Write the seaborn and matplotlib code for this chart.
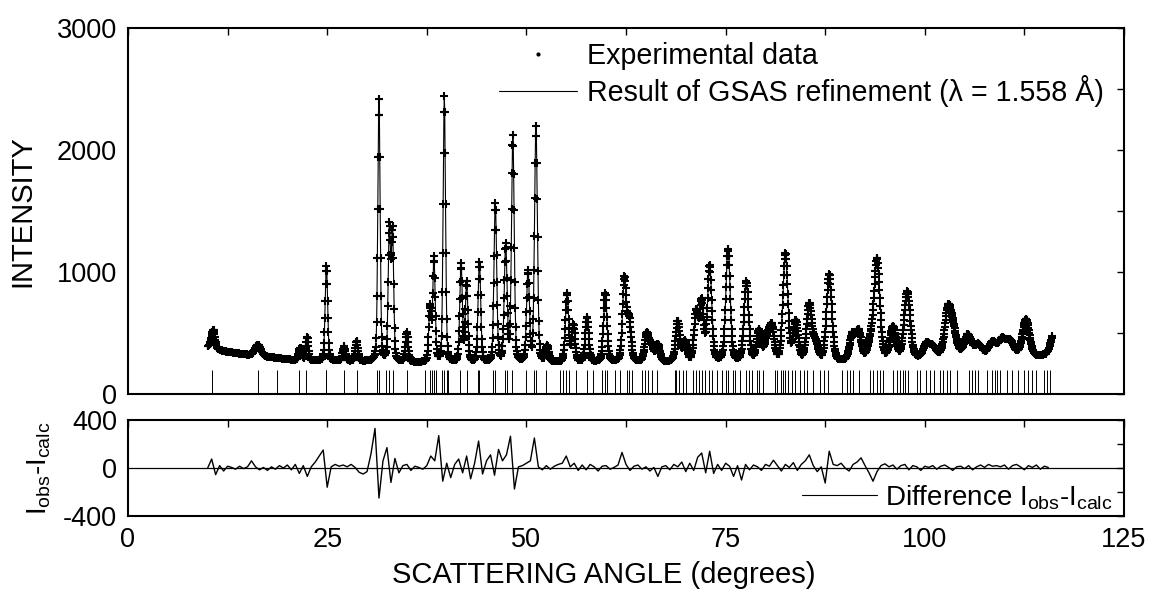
import numpy as np
import matplotlib
matplotlib.use("Agg")
import matplotlib.pyplot as plt
import seaborn as sns
from matplotlib.ticker import MultipleLocator
from matplotlib.lines import Line2D

sns.set_theme(style="white")
plt.rcParams.update({
    'font.family': ['Liberation Sans', 'DejaVu Sans'],
    'mathtext.default': 'regular',
    'axes.unicode_minus': False,
    'axes.edgecolor': 'black',
    'axes.labelcolor': 'black',
    'axes.linewidth': 1.5,
    'xtick.color': 'black',
    'ytick.color': 'black',
    'text.color': 'black',
})

# Peaks (angle, height above background, FWHM in degrees)
PEAK_POS = [10.7, 16.3, 21.6, 22.5, 24.9, 27.1, 28.7, 31.5, 32.8, 33.2,
            35.0, 37.9, 38.4, 39.7, 41.8, 42.5, 44.1, 46.1, 47.4, 48.3,
            50.2, 51.2, 52.6, 55.1, 55.9, 57.6, 59.9, 62.3, 62.9, 65.1,
            65.7, 66.5, 69.0, 69.9, 71.3, 72.0, 73.0, 75.3, 77.6, 79.2,
            80.2, 80.8, 82.5, 83.8, 85.5, 86.3, 88.0, 90.9, 91.7, 93.2,
            94.0, 96.0, 97.8, 100.2, 101.0, 102.9, 103.6, 105.4, 106.7, 108.5,
            109.7, 110.7, 112.7, 116.4]
PEAK_HEIGHT = [150, 90, 100, 190, 780, 120, 160, 2150, 1080, 1050,
               240, 450, 850, 2180, 800, 650, 820, 1300, 950, 1850,
               740, 1930, 130, 560, 300, 370, 560, 680, 330, 230,
               130, 140, 330, 160, 400, 480, 780, 920, 650, 250,
               180, 270, 880, 320, 460, 140, 710, 210, 230, 140,
               820, 260, 550, 110, 80, 380, 180, 160, 80, 100,
               120, 110, 300, 260]
PEAK_FWHM = [0.5, 0.9, 0.5, 0.35, 0.37, 0.4, 0.4, 0.34, 0.34, 0.34,
             0.4, 0.36, 0.36, 0.35, 0.38, 0.38, 0.4, 0.4, 0.42, 0.4,
             0.42, 0.42, 0.48, 0.48, 0.48, 0.5, 0.52, 0.55, 0.55, 0.6,
             0.6, 0.6, 0.6, 0.6, 0.6, 0.6, 0.62, 0.65, 0.68, 0.68,
             0.7, 0.7, 0.72, 0.74, 0.76, 0.76, 0.78, 0.8, 0.8, 0.82,
             0.84, 0.86, 0.88, 0.9, 0.9, 0.95, 0.95, 1.0, 1.0, 1.05,
             1.05, 1.05, 1.0, 1.05]

BKG_ANGLE = [10, 12, 15, 18, 21, 25, 30, 40, 50, 60, 70, 80, 90, 100, 106, 110, 114, 116]
BKG_LEVEL = [390, 350, 320, 300, 275, 270, 265, 250, 250, 260, 260, 260, 260, 290, 320, 320, 305, 320]

# Reflection marker positions (degrees)
REFLECTIONS = [10.6, 16.35, 18.7, 21.5, 22.4, 24.8, 24.9, 27.1, 28.7, 31.3,
               31.5, 32.4, 32.7, 33.2, 35.0, 37.3, 37.9, 38.1, 38.4, 38.7,
               39.4, 39.7, 40.0, 40.2, 41.7, 42.5, 43.9, 44.1, 45.8, 46.1,
               47.3, 47.6, 48.2, 50.0, 50.9, 51.2, 52.5, 54.2, 54.6, 55.0,
               55.4, 56.2, 57.6, 58.4, 59.5, 59.9, 60.1, 61.1, 61.7, 62.6,
               62.9, 63.2, 64.5, 64.9, 65.3, 65.7, 66.4, 68.6, 68.8, 69.1,
               69.7, 70.0, 70.9, 71.3, 71.7, 72.0, 72.4, 72.9, 73.3, 73.9,
               74.5, 75.1, 75.3, 75.9, 76.2, 76.8, 77.5, 77.9, 78.3, 78.9,
               79.2, 79.7, 81.2, 81.5, 81.9, 82.2, 82.5, 82.8, 83.3, 83.7,
               84.3, 84.8, 85.2, 86.0, 86.8, 87.3, 87.9, 89.6, 90.2, 90.6,
               91.0, 91.7, 93.1, 93.5, 94.0, 94.4, 94.8, 96.0, 96.5, 96.9,
               97.3, 97.5, 97.9, 99.0, 99.4, 100.2, 100.7, 101.1, 101.9, 102.3,
               102.8, 103.2, 104.0, 105.5, 105.9, 106.3, 106.7, 107.8, 108.4, 108.8,
               109.0, 109.4, 110.3, 110.9, 111.7, 112.4, 113.0, 113.4, 114.0, 114.9,
               115.3, 115.7]
TICK_HEIGHT = 200

# Difference curve, sampled every 0.5 degrees from 10.0
DIFF_START = 10.0
DIFF_STEP = 0.5
DIFF_VALUES = [0, 75, -55, 20, -25, 15, 5, -10, 15, -5,
               10, 60, 10, -15, 5, -20, 10, -10, 20, 0,
               25, -15, 30, -45, 20, -70, 10, 50, 100, 150,
               -160, 10, 30, 15, 25, 10, 30, 5, -35, -50,
               -30, 120, 330, -250, 60, 170, -120, 80, -40, 20,
               30, -20, 15, 5, -10, 20, 100, 60, 270, -110,
               40, -80, 30, 75, -40, 100, -90, 40, 225, -50,
               60, 110, -60, 155, 60, 110, 265, -175, 10, 20,
               40, 60, 250, 10, -15, 20, -10, 15, 30, 40,
               100, 10, 40, -20, 25, -15, 30, 10, -25, 15,
               20, -10, 5, 25, 130, 30, -20, 15, 25, -10,
               10, -25, 5, -70, 10, 20, -15, 30, 10, 50,
               -30, 40, -20, 90, 125, -40, 140, -45, 30, -20,
               40, 15, -70, 20, -100, 30, -15, 25, 10, -20,
               30, 15, 65, 20, -25, 30, 5, 45, -20, 30,
               60, 110, 20, -30, 10, -125, 140, 30, 20, 40,
               0, -25, 30, 50, 85, 20, -40, -110, -30, 20,
               35, 10, 25, -10, 20, 30, -15, 20, 10, -20,
               15, 5, 20, -10, 15, 25, 5, -20, 10, 15,
               -5, 20, -15, 10, 25, 5, 30, 15, 20, 10,
               25, -10, 20, 30, 10, -15, 20, 5, 25, -10,
               15, 5]

SCAN_START, SCAN_END, SCAN_STEP = 10.0, 116.0, 0.05


def calc_profile(tth):
    y = np.interp(tth, BKG_ANGLE, BKG_LEVEL).astype(float)
    for p, h, w in zip(PEAK_POS, PEAK_HEIGHT, PEAK_FWHM):
        u = (tth - p) / w
        gauss = np.exp(-4 * np.log(2) * u ** 2)
        lorentz = 1.0 / (1.0 + 4 * u ** 2)
        y += h * (0.75 * gauss + 0.25 * lorentz)
    return y


tth = np.arange(SCAN_START, SCAN_END, SCAN_STEP)
icalc = calc_profile(tth)
diff_x = DIFF_START + DIFF_STEP * np.arange(len(DIFF_VALUES))

fig = plt.figure(figsize=(11.5, 5.9), dpi=100)
ax1 = fig.add_axes([0.1113, 0.3322, 0.8661, 0.6203])
ax2 = fig.add_axes([0.1113, 0.1254, 0.8661, 0.1627])

# Top panel: observed points, calculated curve and reflection markers
sns.lineplot(x=tth, y=icalc, ax=ax1, color='black', linewidth=0.8,
             estimator=None, zorder=2)
sns.scatterplot(x=tth, y=icalc, ax=ax1, marker='+', s=38, color='black',
                linewidth=1.5, legend=False, zorder=3)
ax1.vlines(REFLECTIONS, 0, TICK_HEIGHT, color='black', linewidth=0.7)

ax1.set_xlim(0, 125)
ax1.set_ylim(0, 3000)
ax1.set_ylabel('INTENSITY', fontsize=21)
ax1.yaxis.set_label_coords(-0.092, 0.5)
ax1.yaxis.set_major_locator(MultipleLocator(1000))
ax1.yaxis.set_minor_locator(MultipleLocator(500))
ax1.xaxis.set_major_locator(MultipleLocator(25))
ax1.xaxis.set_minor_locator(MultipleLocator(12.5))
ax1.tick_params(axis='x', labelbottom=False)

handles = [Line2D([], [], ls='none', marker='.', markersize=4, color='black'),
           Line2D([], [], color='black', linewidth=0.8)]
ax1.legend(handles, ['Experimental data',
                     'Result of GSAS refinement (\u03bb = 1.558 \u00c5)'],
           loc='upper right', bbox_to_anchor=(0.991, 0.992), frameon=False,
           fontsize=20.6, handlelength=2.7, handletextpad=0.35, labelspacing=0.15,
           borderaxespad=0.0)

# Bottom panel: difference curve
sns.lineplot(x=diff_x, y=DIFF_VALUES, ax=ax2, color='black', linewidth=1.0,
             estimator=None)
ax2.axhline(0, color='black', linewidth=0.9)
ax2.set_xlim(0, 125)
ax2.set_ylim(-400, 400)
ax2.yaxis.set_major_locator(MultipleLocator(400))
ax2.yaxis.set_minor_locator(MultipleLocator(200))
ax2.xaxis.set_major_locator(MultipleLocator(25))
ax2.xaxis.set_minor_locator(MultipleLocator(12.5))
ax2.set_ylabel(r'I$_{obs}$-I$_{calc}$', fontsize=20)
ax2.yaxis.set_label_coords(-0.075, 0.5)
ax2.set_xlabel('SCATTERING ANGLE (degrees)', fontsize=21)
ax2.xaxis.set_label_coords(0.478, -0.47)
ax2.legend([Line2D([], [], color='black', linewidth=0.8)],
           [r'Difference I$_{obs}$-I$_{calc}$'],
           loc='lower right', bbox_to_anchor=(1.0, -0.07), frameon=False,
           fontsize=20, handlelength=2.7, handletextpad=0.3, borderaxespad=0.0)

for ax in (ax1, ax2):
    ax.tick_params(which='both', direction='in', top=True, right=True,
                   length=5, width=1.0, labelsize=19.5, pad=8)
    for side in ax.spines.values():
        side.set_linewidth(1.5)
        side.set_color('black')

fig.savefig('out.png', dpi=100)
